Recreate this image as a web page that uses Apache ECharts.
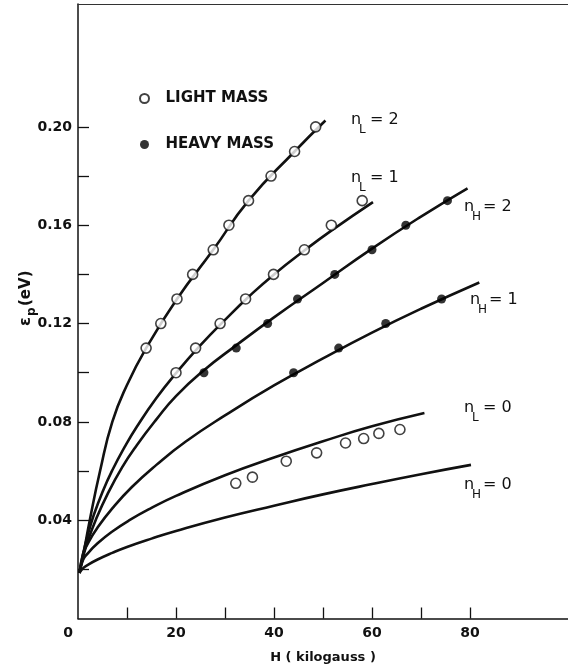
<!DOCTYPE html>
<html>
<head>
<meta charset="utf-8">
<script src="https://cdn.jsdelivr.net/npm/echarts@6/dist/echarts.min.js"></script>
<style>
  html, body { margin: 0; padding: 0; background: #fff; }
  #chart { width: 568px; height: 671px; }
</style>
</head>
<body>
<div id="chart"></div>
<script>
// theory curves, [H (kG), eps (eV)]
const curveL2 = [[0.3,0.0185],[1,0.025],[2.4,0.04],[4.5,0.06],[7,0.08],[10,0.095],[13.9,0.11],[20.2,0.13],[27.6,0.15],[34.8,0.17],[44.2,0.19],[50.5,0.2026]];
const curveL1 = [[0.3,0.0185],[1,0.026],[2,0.034],[3.2,0.042],[5,0.0515],[7,0.0603],[9.5,0.0697],[12,0.078],[16,0.0897],[20,0.0998],[25,0.1112],[30,0.1215],[35,0.1312],[40,0.14],[46.2,0.1497],[51.7,0.1578],[60.2,0.1694]];
const curveH2 = [[0.3,0.0185],[1,0.0248],[2,0.0315],[3.6,0.04],[6,0.0505],[9,0.0615],[12,0.0705],[16,0.081],[20,0.0905],[25.7,0.101],[32,0.1107],[40,0.1225],[50,0.1365],[60,0.1505],[70,0.1635],[79.5,0.175]];
const curveH1 = [[0.3,0.0185],[1,0.026],[2,0.0305],[4,0.037],[7,0.0448],[11,0.0535],[16,0.0625],[22,0.072],[30,0.0826],[40,0.0948],[50,0.1058],[60,0.1163],[70,0.126],[81.9,0.1367]];
const curveL0 = [[0.3,0.0185],[1,0.0237],[2,0.0265],[4,0.0306],[7,0.0354],[10.5,0.04],[15,0.045],[20,0.0499],[30,0.0583],[40,0.0655],[50,0.0721],[60,0.0782],[70.7,0.0836]];
const curveH0 = [[0.3,0.0185],[1,0.0204],[2,0.0218],[4,0.024],[7,0.0267],[10,0.0291],[15,0.0325],[20,0.0356],[30,0.0411],[40,0.0459],[50,0.0505],[60,0.0547],[70,0.0587],[80.2,0.0625]];

// measured points
const lightH = [13.9,16.9,20.2,23.4,27.6,30.8,34.8,39.4,44.2,48.5, 20,24,29,34.2,39.9,46.2,51.7,58, 32.2,35.6,42.5,48.7,54.6,58.3,61.4,65.7];
const lightE = [0.11,0.12,0.13,0.14,0.15,0.16,0.17,0.18,0.19,0.20, 0.10,0.11,0.12,0.13,0.14,0.15,0.16,0.17, 0.055,0.0575,0.064,0.0674,0.0714,0.0732,0.0753,0.0769];
const heavyH = [25.7,32.3,38.7,44.8,52.4,60,66.9,75.4, 44,53.2,62.8,74.2];
const heavyE = [0.10,0.11,0.12,0.13,0.14,0.15,0.16,0.17, 0.10,0.11,0.12,0.13];

// ticks
const xTicks = [10,20,30,40,50,60,70,80];
const xLabels = [0,20,40,60,80];
const yTicks = [0.02,0.04,0.06,0.08,0.10,0.12,0.14,0.16,0.18,0.20];
const yLabels = [0.04,0.08,0.12,0.16,0.20];

const FONT = '"DejaVu Sans", sans-serif';
const INK = '#111';

function lineSeries(data) {
  return {
    type: 'line', data: data, smooth: 0.5, showSymbol: false, silent: true,
    lineStyle: { color: INK, width: 2.6 }, z: 2
  };
}

function txt(x, y, s, size, weight) {
  return {
    type: 'text', x: x, y: y, silent: true,
    style: {
      text: s, fill: INK, font: (weight || 'normal') + ' ' + size + 'px ' + FONT,
      textAlign: 'left', align: 'left', textVerticalAlign: 'middle', verticalAlign: 'middle'
    }
  };
}

// "n_X = k" labels
function nLabel(x, y, sub, rest) {
  return [txt(x, y, 'n', 16), txt(x + 8, y + 10, sub, 12), txt(x + 19, y, rest, 16)];
}

const chart = echarts.init(document.getElementById('chart'));

chart.setOption({
  animation: false,
  backgroundColor: '#fff',
  grid: { left: 78, top: 4, width: 493, height: 614.5 },
  legend: {
    data: ['LIGHT MASS', 'HEAVY MASS'],
    orient: 'vertical', left: 139, top: 91,
    itemWidth: 26, itemHeight: 9, itemGap: 31, padding: 0,
    selectedMode: false,
    textStyle: { fontFamily: FONT, fontWeight: 'bold', fontSize: 15, color: INK, padding: [0,0,0,3] }
  },
  xAxis: [{
    type: 'value', min: 0, max: 100, interval: 10,
    name: 'H ( kilogauss )', nameLocation: 'middle', nameGap: 33,
    nameTextStyle: { fontFamily: FONT, fontWeight: 'bold', fontSize: 13, color: INK },
    axisLine: { lineStyle: { color: INK, width: 1.5 } },
    axisTick: { inside: true, length: 11, customValues: xTicks, lineStyle: { color: INK, width: 1.3 } },
    axisLabel: {
      customValues: xLabels, margin: 8, fontFamily: FONT, fontWeight: 'bold', fontSize: 14, color: INK,
      formatter: v => v === 0 ? '{z|0}' : String(v),
      rich: { z: { padding: [0, 20, 0, 0], fontFamily: FONT, fontWeight: 'bold', fontSize: 14, color: INK } }
    },
    splitLine: { show: false }
  }, {
    type: 'value', min: 0, max: 100, position: 'top',
    axisLine: { show: true, lineStyle: { color: '#333', width: 1.2 } },
    axisTick: { show: false }, axisLabel: { show: false }, splitLine: { show: false }
  }],
  yAxis: {
    type: 'value', min: 0, max: 0.25,
    axisLine: { show: true, lineStyle: { color: INK, width: 1.5 } },
    axisTick: { inside: true, length: 11, customValues: yTicks, lineStyle: { color: INK, width: 1.3 } },
    axisLabel: {
      customValues: yLabels, margin: 6, fontFamily: FONT, fontWeight: 'bold', fontSize: 14, color: INK,
      formatter: v => v.toFixed(2)
    },
    splitLine: { show: false }
  },
  series: [
    lineSeries(curveL2), lineSeries(curveL1), lineSeries(curveH2),
    lineSeries(curveH1), lineSeries(curveL0), lineSeries(curveH0),
    {
      name: 'LIGHT MASS', type: 'scatter', symbol: 'circle', symbolSize: 10, z: 3,
      data: lightH.map((h, i) => [h, lightE[i]]),
      itemStyle: { color: '#fff', borderColor: INK, borderWidth: 1.6 }
    },
    {
      name: 'HEAVY MASS', type: 'scatter', symbol: 'circle', symbolSize: 9, z: 3,
      data: heavyH.map((h, i) => [h, heavyE[i]]),
      itemStyle: { color: '#000' }
    }
  ],
  graphic: [
    ...nLabel(351, 120, 'L', '= 2'),
    ...nLabel(351, 178, 'L', '= 1'),
    ...nLabel(464, 207, 'H', '= 2'),
    ...nLabel(470, 300, 'H', '= 1'),
    ...nLabel(464, 408, 'L', '= 0'),
    ...nLabel(464, 485, 'H', '= 0'),
    {
      type: 'group', x: 26, y: 326, rotation: Math.PI / 2, silent: true,
      children: [txt(0, 0, 'ε', 16, 'bold'), txt(10, 6, 'p', 12, 'bold'), txt(20, 0, '(eV)', 15, 'bold')]
    }
  ]
});
</script>
</body>
</html>
